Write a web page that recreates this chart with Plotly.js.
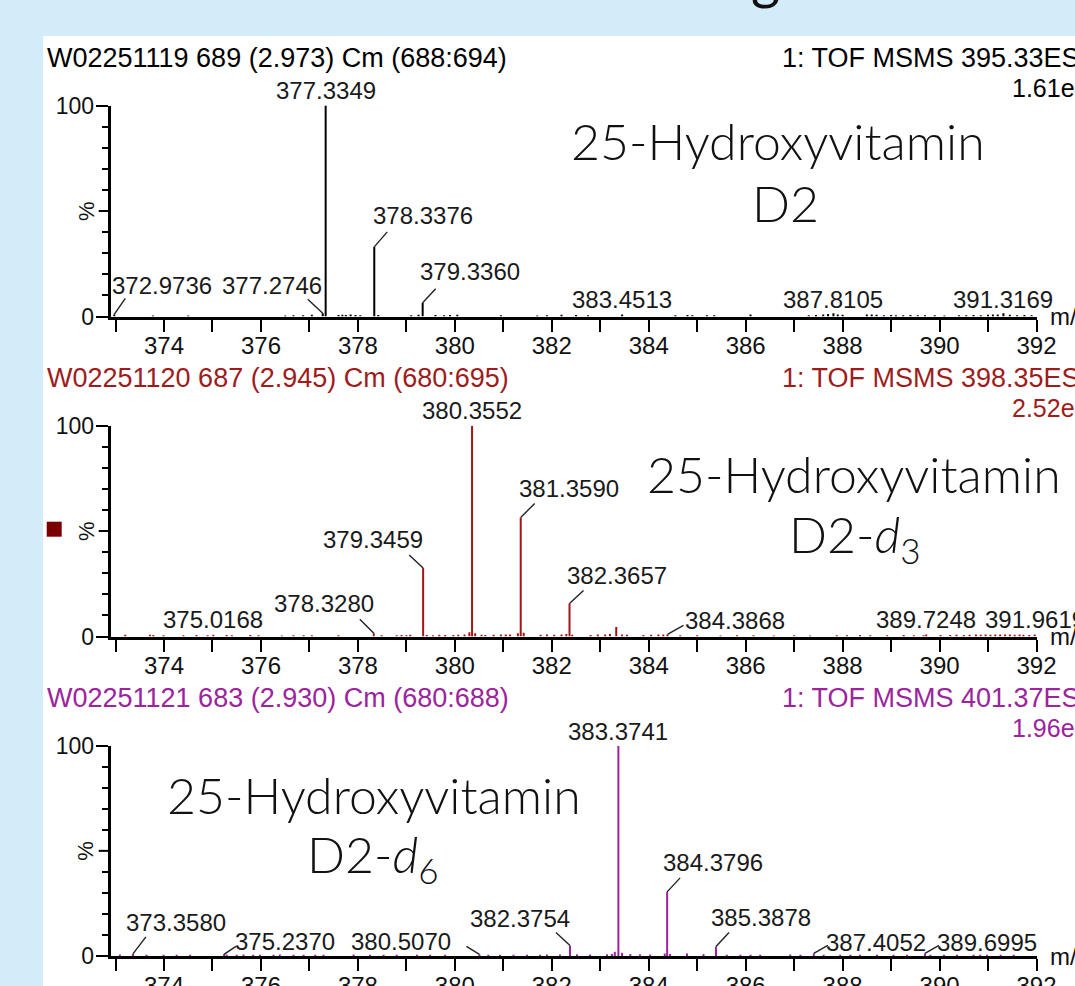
<!DOCTYPE html>
<html><head><meta charset="utf-8">
<script src="https://cdn.plot.ly/plotly-3.0.1.min.js"></script>
<style>html,body{margin:0;padding:0;background:#d3ecfa;overflow:hidden}#chart{width:1075px;height:986px}</style>
</head><body><div id="chart"></div>
<script>
// ---------------- DATA ----------------
const xTickVals = [374, 376, 378, 380, 382, 384, 386, 388, 390, 392];
const xMinorTickVals = [373, 375, 377, 379, 381, 383, 385, 387, 389, 391];
const yTickVals = [0, 100];
const yTickText = ['0', '100'];
const yMinorTickVals = [10, 20, 30, 40, 60, 70, 80, 90];

const headerLeft = ['W02251119 689 (2.973) Cm (688:694)', 'W02251120 687 (2.945) Cm (680:695)', 'W02251121 683 (2.930) Cm (680:688)'];
const headerRight = ['1: TOF MSMS 395.33ES+', '1: TOF MSMS 398.35ES+', '1: TOF MSMS 401.37ES+'];
const headerIntensity = ['1.61e4', '2.52e4', '1.96e4'];
const compoundLine1 = ['25-Hydroxyvitamin', '25-Hydroxyvitamin', '25-Hydroxyvitamin'];
const compoundLine2 = ['D2', 'D2-<i>d</i><sub>3</sub>', 'D2-<i>d</i><sub>6</sub>'];
const yAxisLabel = '%';
const xAxisLabel = 'm/z';

// Panel 1 (black) labelled peaks
const p1LabelMz  = [372.9736, 377.2746, 377.3349, 378.3376, 379.3360, 383.4513, 387.8105, 391.3169];
const p1LabelInt = [1.0, 1.5, 100, 33, 6.5, 1.0, 1.5, 1.5];
const p1NoiseMz  = [373.77, 374.50, 376.50, 376.67, 376.87, 377.05, 377.60, 377.68, 377.75, 377.85, 377.95, 378.05, 378.42, 379.10, 379.25, 379.60, 379.78, 379.90, 380.05, 380.95, 381.70, 381.90, 382.20, 382.50, 382.75, 384.55, 384.80, 384.90, 385.20, 385.35, 386.10, 387.30, 387.45, 387.60, 387.70, 387.90, 388.00, 388.50, 388.60, 388.70, 388.85, 389.00, 389.10, 389.25, 389.40, 389.55, 389.70, 389.90, 390.10, 390.40, 390.55, 390.70, 390.85, 391.00, 391.10, 391.20, 391.45, 391.60, 391.75, 391.90];
const p1NoiseInt = [0.5, 0.5, 0.5, 0.6, 0.6, 0.8, 0.7, 0.8, 0.7, 0.9, 0.7, 0.6, 0.7, 0.6, 0.8, 0.7, 0.6, 0.7, 0.8, 0.6, 0.5, 0.6, 0.8, 0.7, 0.6, 0.6, 0.7, 0.6, 0.6, 0.6, 0.9, 0.6, 0.7, 0.9, 1.2, 1.0, 0.8, 1.0, 0.9, 0.8, 0.6, 0.7, 0.6, 0.6, 0.7, 0.6, 0.6, 0.6, 0.5, 0.6, 0.6, 0.7, 0.6, 0.8, 0.9, 1.0, 0.8, 0.6, 0.7, 0.6];

// Panel 2 (red) labelled peaks
const p2LabelMz  = [375.0168, 378.3280, 379.3459, 380.3552, 381.3590, 382.3657, 384.3868, 389.7248, 391.9619];
const p2LabelInt = [0.8, 1.5, 32.5, 100, 56.5, 15.7, 1.0, 1.0, 1.0];
const p2NoiseMz  = [373.20, 373.71, 373.78, 373.99, 374.40, 374.67, 374.90, 375.29, 375.40, 375.78, 375.95, 376.43, 376.67, 376.88, 377.05, 377.60, 378.49, 378.80, 378.90, 379.00, 379.08, 379.42, 379.55, 379.68, 379.80, 379.97, 380.07, 380.20, 380.30, 380.42, 380.55, 380.63, 380.80, 380.95, 381.05, 381.14, 381.30, 381.42, 381.77, 381.90, 382.05, 382.20, 382.30, 382.42, 382.80, 382.95, 383.10, 383.20, 383.33, 383.45, 383.55, 383.89, 384.05, 384.20, 384.30, 384.65, 385.00, 385.48, 385.82, 386.16, 386.58, 387.00, 387.33, 387.88, 388.09, 388.36, 388.57, 388.92, 389.26, 389.47, 389.67, 390.02, 390.22, 390.35, 390.50, 390.62, 390.75, 390.85, 390.95, 391.05, 391.15, 391.25, 391.35, 391.45, 391.55, 391.65, 391.73, 391.85];
const p2NoiseInt = [0.8, 0.8, 0.7, 0.6, 0.6, 0.7, 0.6, 0.7, 0.6, 0.7, 0.6, 0.5, 0.6, 0.6, 0.6, 0.6, 0.6, 0.6, 0.7, 0.6, 0.8, 0.7, 0.6, 0.8, 0.7, 0.7, 0.8, 0.9, 2.0, 1.5, 0.8, 0.7, 0.8, 1.0, 0.9, 1.0, 1.5, 1.8, 0.8, 1.0, 0.8, 1.0, 1.2, 0.8, 0.7, 0.9, 1.0, 1.2, 4.5, 1.0, 0.8, 0.7, 0.8, 0.9, 1.0, 0.6, 0.6, 0.5, 0.6, 0.6, 0.5, 0.6, 0.5, 0.6, 0.6, 0.7, 0.6, 0.6, 0.7, 0.6, 0.6, 0.7, 0.7, 0.8, 0.7, 0.8, 0.9, 0.8, 0.9, 0.8, 1.0, 0.9, 1.0, 0.9, 0.8, 0.9, 0.8, 0.7];

// Panel 3 (purple) labelled peaks
const p3LabelMz  = [373.3580, 375.2370, 380.5070, 382.3754, 383.3741, 384.3796, 385.3878, 387.4052, 389.6995];
const p3LabelInt = [1.0, 0.8, 0.8, 5.0, 100, 30.5, 4.5, 1.2, 1.2];
const p3NoiseMz  = [373.09, 373.64, 373.99, 374.26, 374.54, 375.29, 375.50, 375.64, 375.84, 375.98, 376.26, 376.39, 376.67, 376.88, 377.12, 377.29, 377.91, 378.25, 378.53, 378.80, 379.22, 379.49, 379.80, 380.69, 380.93, 381.21, 381.49, 381.76, 381.90, 382.17, 382.52, 382.79, 383.14, 383.24, 383.30, 383.45, 383.62, 383.82, 384.03, 384.33, 384.44, 384.79, 385.13, 385.61, 385.89, 386.10, 386.30, 386.92, 387.13, 387.61, 387.95, 388.16, 388.36, 388.71, 389.05, 389.33, 389.81, 390.09, 390.36, 390.70, 390.84, 390.98, 391.26, 391.53];
const p3NoiseInt = [0.7, 0.6, 0.6, 0.6, 0.6, 0.7, 0.6, 0.7, 0.6, 0.6, 0.6, 0.7, 0.6, 0.6, 0.6, 0.6, 0.7, 0.6, 0.6, 0.6, 0.6, 0.6, 0.6, 0.6, 0.6, 0.6, 0.6, 0.6, 0.7, 0.7, 0.8, 0.7, 0.8, 1.0, 2.0, 1.5, 0.9, 0.8, 0.7, 1.2, 1.0, 1.2, 0.9, 0.6, 0.6, 0.6, 0.6, 0.7, 0.6, 0.6, 0.6, 0.6, 0.6, 0.6, 0.6, 0.6, 0.6, 0.6, 0.6, 0.6, 0.6, 0.6, 0.6, 0.6];

// ---------------- STYLE / LAYOUT ----------------
const W = 1075, H = 986;
const fx = px => px / W;
const fy = py => 1 - py / H;

const panels = [
  { mz: p1LabelMz, int: p1LabelInt, nMz: p1NoiseMz, nInt: p1NoiseInt,
    lineColor: '#000000', headColor: '#000000', top: 105.5, bottom: 316.5,
    textOff: [[48,-29],[-51,-28],[0,-15],[49,-31],[47,-31],[0,-15],[0,-14],[0,-14]],
    leadOff: [[11,-16],[-15,-14],null,[13,-15],[13,-14],null,null,null],
    title1: [778, 141], title2: [785, 203] },
  { mz: p2LabelMz, int: p2LabelInt, nMz: p2NoiseMz, nInt: p2NoiseInt,
    lineColor: '#a31515', headColor: '#9e1c1c', top: 425.7, bottom: 636.5,
    textOff: [[0,-15],[-50,-30],[-50,-28],[0,-15],[48,-29],[47,-28],[68,-14],[0,-15],[0,-15]],
    leadOff: [null,[-14,-14],[-14,-13],null,[14,-14],[14,-13],[16,-9],null,null],
    title1: [854, 474], title2: [855, 537] },
  { mz: p3LabelMz, int: p3LabelInt, nMz: p3NoiseMz, nInt: p3NoiseInt,
    lineColor: '#a020a0', headColor: '#9c249c', top: 745.7, bottom: 956,
    textOff: [[43,-31],[61,-13],[-78,-13],[-50,-27],[0,-14],[46,-29],[45,-29],[62,-11],[62,-11]],
    leadOff: [[13,-17],[12,-8],[-13,-8],[-14,-13],null,[13,-14],[13,-14],[14,-8],[14,-8]],
    title1: [374, 795], title2: [373, 857] }
];

const sysFont = 'Liberation Sans, Arial, sans-serif';
const titleFont = '"Lato Light", Lato, sans-serif';
const traces = [];
const annotations = [];
const shapes = [
  { type: 'rect', xref: 'paper', yref: 'paper', x0: fx(43), x1: 1.01, y0: -0.01, y1: fy(36), fillcolor: '#ffffff', line: { width: 0 }, layer: 'below' },
  { type: 'rect', xref: 'paper', yref: 'paper', x0: fx(46.7), x1: fx(61.7), y0: fy(536.7), y1: fy(521.7), fillcolor: '#7a0000', line: { width: 0 } }
];
const layout = {
  width: W, height: H,
  margin: { l: 0, r: 0, t: 0, b: 0 },
  paper_bgcolor: '#d3ecfa',
  plot_bgcolor: 'rgba(0,0,0,0)',
  showlegend: false,
  shapes: shapes,
  annotations: annotations
};

// cut-off page title descender at the very top
annotations.push({ xref: 'paper', yref: 'paper', x: fx(765), y: fy(12), xanchor: 'center', yanchor: 'bottom',
  text: 'g', showarrow: false, font: { family: 'Lato, sans-serif', size: 56, color: '#111' } });

panels.forEach((p, i) => {
  const n = i === 0 ? '' : String(i + 1);
  const xa = 'x' + n, ya = 'y' + n;
  const xs = [], ys = [];
  const allMz = p.mz.concat(p.nMz), allInt = p.int.concat(p.nInt);
  allMz.forEach((m, k) => { xs.push(m, m, null); ys.push(0, allInt[k], null); });
  traces.push({ type: 'scatter', mode: 'lines', x: xs, y: ys, xaxis: xa, yaxis: ya,
    line: { color: p.lineColor, width: 2 }, hoverinfo: 'skip' });

  layout['xaxis' + n] = {
    domain: [fx(110.7), fx(1036.5)], range: [372.9, 392], anchor: ya,
    tickmode: 'array', tickvals: xTickVals, ticktext: xTickVals.map(String),
    ticks: 'outside', ticklen: 12, tickwidth: 2, tickcolor: '#000', ticklabelstandoff: -6,
    minor: { tickmode: 'array', tickvals: xMinorTickVals, ticks: 'outside', ticklen: 12, tickwidth: 2, tickcolor: '#000', showgrid: false },
    showline: true, linewidth: 3, linecolor: '#000', showgrid: false, zeroline: false,
    tickfont: { family: sysFont, size: 24, color: '#111' }, fixedrange: true
  };
  layout['yaxis' + n] = {
    domain: [fy(p.bottom), fy(p.top)], range: [0, 100], anchor: xa,
    tickmode: 'array', tickvals: yTickVals, ticktext: yTickText,
    ticks: 'outside', ticklen: 12, tickwidth: 2, tickcolor: '#000', ticklabelstandoff: -3,
    minor: { tickmode: 'array', tickvals: yMinorTickVals, ticks: 'outside', ticklen: 6, tickwidth: 2, tickcolor: '#000', showgrid: false },
    showline: true, linewidth: 3, linecolor: '#000', showgrid: false, zeroline: false,
    tickfont: { family: sysFont, size: 23, color: '#111' }, fixedrange: true
  };
  // long mid tick at 50 %
  shapes.push({ type: 'line', xref: 'paper', yref: ya, x0: fx(98.7), x1: fx(110.7), y0: 50, y1: 50, line: { color: '#000', width: 2 } });

  // headers
  annotations.push({ xref: 'paper', yref: ya + ' domain', x: fx(45), y: 1, yshift: 47.5, xanchor: 'left', yanchor: 'middle',
    text: headerLeft[i], showarrow: false, font: { family: sysFont, size: 27, color: p.headColor } });
  annotations.push({ xref: 'paper', yref: ya + ' domain', x: fx(780), y: 1, yshift: 47.5, xanchor: 'left', yanchor: 'middle',
    text: headerRight[i], showarrow: false, font: { family: sysFont, size: 27, color: p.headColor } });
  annotations.push({ xref: 'paper', yref: ya + ' domain', x: fx(1010), y: 1, yshift: 17.5, xanchor: 'left', yanchor: 'middle',
    text: headerIntensity[i], showarrow: false, font: { family: sysFont, size: 25, color: p.headColor } });
  // % and m/z
  annotations.push({ xref: 'paper', yref: ya + ' domain', x: fx(86), y: 0.5, xanchor: 'center', yanchor: 'middle',
    text: yAxisLabel, textangle: -90, showarrow: false, font: { family: sysFont, size: 22, color: '#111' } });
  annotations.push({ xref: 'paper', yref: ya + ' domain', x: fx(1048), y: 0, yshift: 0, xanchor: 'left', yanchor: 'middle',
    text: xAxisLabel, showarrow: false, font: { family: sysFont, size: 24, color: '#111' } });

  // peak labels and leader lines
  p.mz.forEach((m, k) => {
    const off = p.textOff[k];
    annotations.push({ xref: xa, yref: ya, x: m, y: p.int[k], xanchor: 'center', yanchor: 'middle',
      xshift: off[0], yshift: -off[1], text: m.toFixed(4), showarrow: false,
      font: { family: sysFont, size: 24, color: '#1a1a1a' } });
    const ld = p.leadOff[k];
    if (ld) {
      shapes.push({ type: 'line', xref: xa, yref: ya, xsizemode: 'pixel', ysizemode: 'pixel',
        xanchor: m, yanchor: p.int[k], x0: 0, y0: 0, x1: ld[0], y1: -ld[1],
        line: { color: '#222', width: 1.4 } });
    }
  });

  // compound name
  annotations.push({ xref: 'paper', yref: 'paper', x: fx(p.title1[0]), y: fy(p.title1[1]), xanchor: 'center', yanchor: 'middle',
    text: compoundLine1[i], showarrow: false, font: { family: titleFont, size: 50, weight: 300, color: '#111' } });
  annotations.push({ xref: 'paper', yref: 'paper', x: fx(p.title2[0]), y: fy(p.title2[1]), xanchor: 'center', yanchor: 'middle',
    text: compoundLine2[i], showarrow: false, font: { family: titleFont, size: 50, weight: 300, color: '#111' } });
});

Plotly.newPlot('chart', traces, layout, { displayModeBar: false, staticPlot: true });
</script>
</body></html>
